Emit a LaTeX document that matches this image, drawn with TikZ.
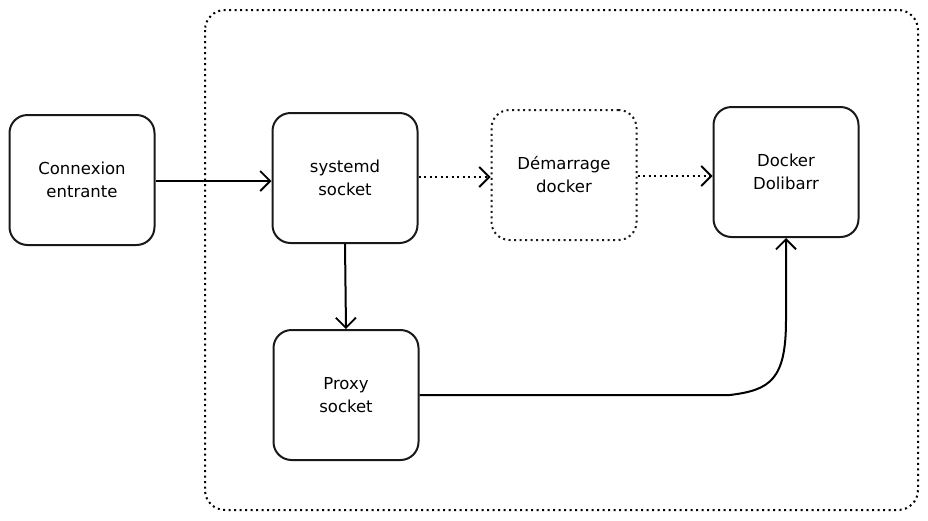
\documentclass[tikz,border=0pt]{standalone}
\usepackage{fontspec}
\setmainfont{DejaVu Sans}
\usetikzlibrary{arrows.meta}
\begin{document}
\begin{tikzpicture}[x=1pt,y=-1pt,
  box/.style={draw=black!90,line width=2pt,rounded corners=18pt,minimum width=145pt,minimum height=130pt,align=center,font=\fontsize{16.5}{23}\selectfont,inner sep=0pt},
  dots/.style={dash pattern=on 2pt off 3.5pt,line width=2pt},
  dbox/.style={box,dots},
  arr/.style={line width=2pt,-{Straight Barb[length=10pt,width=20pt,line width=1.8pt]}},
  darr/.style={dots,-{Straight Barb[length=10pt,width=20pt,line width=1.8pt,open]}}]
\useasboundingbox (0,0) rectangle (928,520);
\draw[dots,rounded corners=20pt] (205,10) rectangle (918,510);
\node[box] (cx) at (82,180) {Connexion\\entrante};
\node[box] (sd) at (345,178) {systemd\\socket};
\node[dbox] (dm) at (564,175) {Démarrage\\docker};
\node[box] (dd) at (786,172) {Docker\\Dolibarr};
\node[box] (px) at (346,395) {Proxy\\socket};
\draw[arr] (cx.east|-0,181) -- (sd.west|-0,181);
\draw[darr] (sd.east|-0,177) -- (dm.west|-0,177);
\draw[darr] (dm.east|-0,176) -- (dd.west|-0,176);
\draw[arr] (sd.south) -- (px.north);
\draw[arr] (px.east) -- (730,395) .. controls (770,390) and (786,380) .. (786,320) -- (dd.south);
\end{tikzpicture}
\end{document}
